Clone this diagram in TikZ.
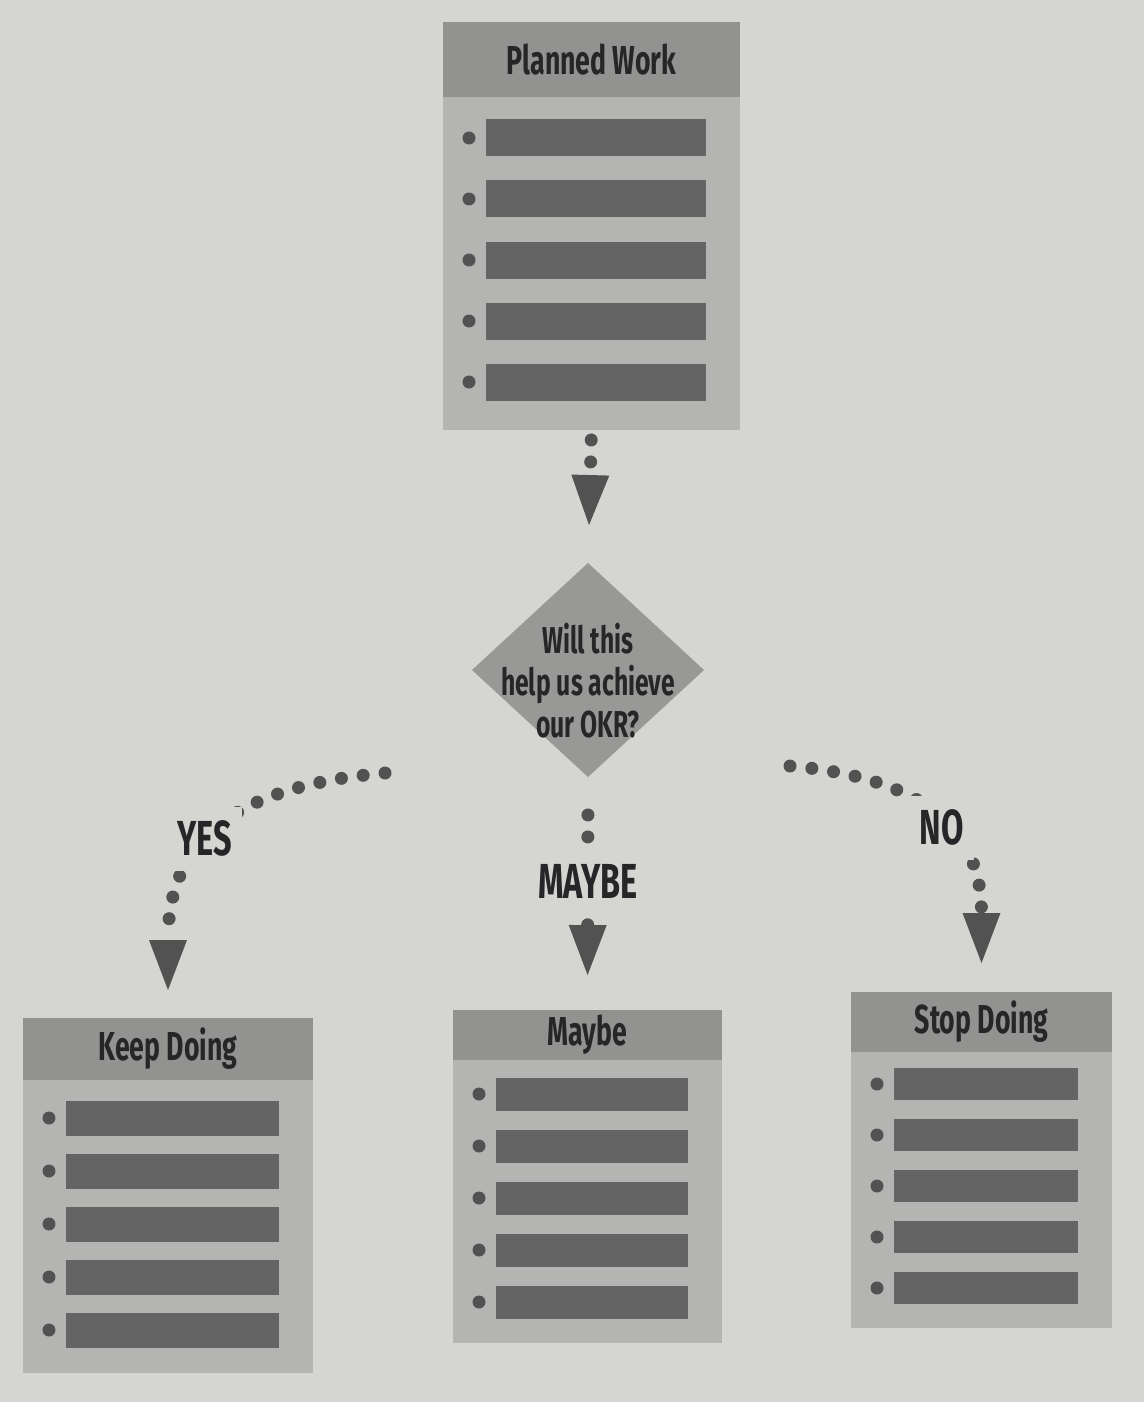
\documentclass[tikz,border=0pt]{standalone}
\usepackage{fontspec}
\setmainfont{Fira Sans}
\newfontfamily\dinfont[FakeStretch=0.66]{Fira Sans}
\usetikzlibrary{arrows.meta,positioning,shapes.geometric,calc}
\definecolor{paper}{RGB}{213,213,210}
\definecolor{ink}{RGB}{38,38,40}
\definecolor{headgray}{RGB}{146,146,145}
\definecolor{bodygray}{RGB}{180,180,178}
\definecolor{bargray}{RGB}{100,100,100}
\definecolor{dotgray}{RGB}{82,82,82}
\definecolor{diagray}{RGB}{152,152,151}

\begin{document}
\begin{tikzpicture}[x=0.02cm,y=-0.02cm,
    listbody/.style={rectangle,fill=bodygray,inner sep=0pt,outer sep=0pt},
    cardtitle/.style={text=ink,font=\dinfont\bfseries\fontsize{23}{26}\selectfont},
    decision/.style={diamond,fill=diagray,inner sep=0pt,outer sep=0pt,minimum width=4.64cm,minimum height=4.28cm},
    asktext/.style={text=ink,align=center,font=\dinfont\bfseries\fontsize{21.3}{23.9}\selectfont},
    choice/.style={fill=paper,text=ink,inner xsep=6pt,inner ysep=8pt,font=\dinfont\bfseries\fontsize{28}{30}\selectfont},
    dotflow/.style={draw=dotgray,line width=7.4pt,line cap=round,dash pattern=on 0pt off 12.5pt,
      -{Triangle[length=1cm 0,width=0.76cm 0,line width=0pt]}}]
  \fill[paper] (0,0) rectangle (1144,1402);
  \useasboundingbox (0,0) rectangle (1144,1402);

  % the four lists
  \foreach \nm/\ttl/\xl/\yt/\xr/\yb/\yh/\yf/\ys/\bh in {
      plan/Planned Work/443/22/740/430/97/138/61/37,
      keep/Keep Doing/23/1018/313/1373/1080/1118/53/35,
      maybe/Maybe/453/1010/722/1343/1060/1094/52/33,
      stop/Stop Doing/851/992/1112/1328/1052/1084/51/32}{
    \node[listbody,minimum width={(\xr-\xl)*0.02cm},minimum height={(\yb-\yt)*0.02cm}] (\nm) at ({(\xl+\xr)/2},{(\yt+\yb)/2}) {};
    \fill[headgray] (\xl,\yt) rectangle (\xr,\yh);
    \node[cardtitle] (\nm-title) at ({(\xl+\xr)/2},{(\yt+\yh)/2}) {\ttl};
    \foreach \i in {0,...,4}{
      \fill[bargray] (\xl+43,\yf+\i*\ys-\bh/2) rectangle (\xr-34,\yf+\i*\ys+\bh/2);
      \fill[dotgray] (\xl+26,\yf+\i*\ys) circle (0.13cm);
    }
  }

  % the question
  \node[decision] (dia) at (588,670) {};
  \node[asktext] (ask) at (588,681) {Will this\\help us achieve\\our OKR?};

  \coordinate (yesfrom) at (385,773);
  \coordinate (nofrom) at (790,766);

  \draw[dotflow,shorten <=0.2cm,shorten >=0.76cm] (plan.south) -- (dia.north);
  \draw[dotflow,shorten <=0.76cm,shorten >=0.7cm] (dia.south) -- node[choice,pos=0.45] (maybelbl) {MAYBE} (maybe.north);
  \draw[dotflow,shorten >=0.56cm] (yesfrom) to[out=185,in=90,looseness=1.3] node[choice,pos=0.5,xshift=-0.2cm] (yeslbl) {YES} (keep.north);
  \draw[dotflow,shorten >=0.58cm] (nofrom) to[out=-5,in=90,looseness=1.3] node[choice,pos=0.5] (nolbl) {NO} (stop.north);
\end{tikzpicture}
\end{document}
